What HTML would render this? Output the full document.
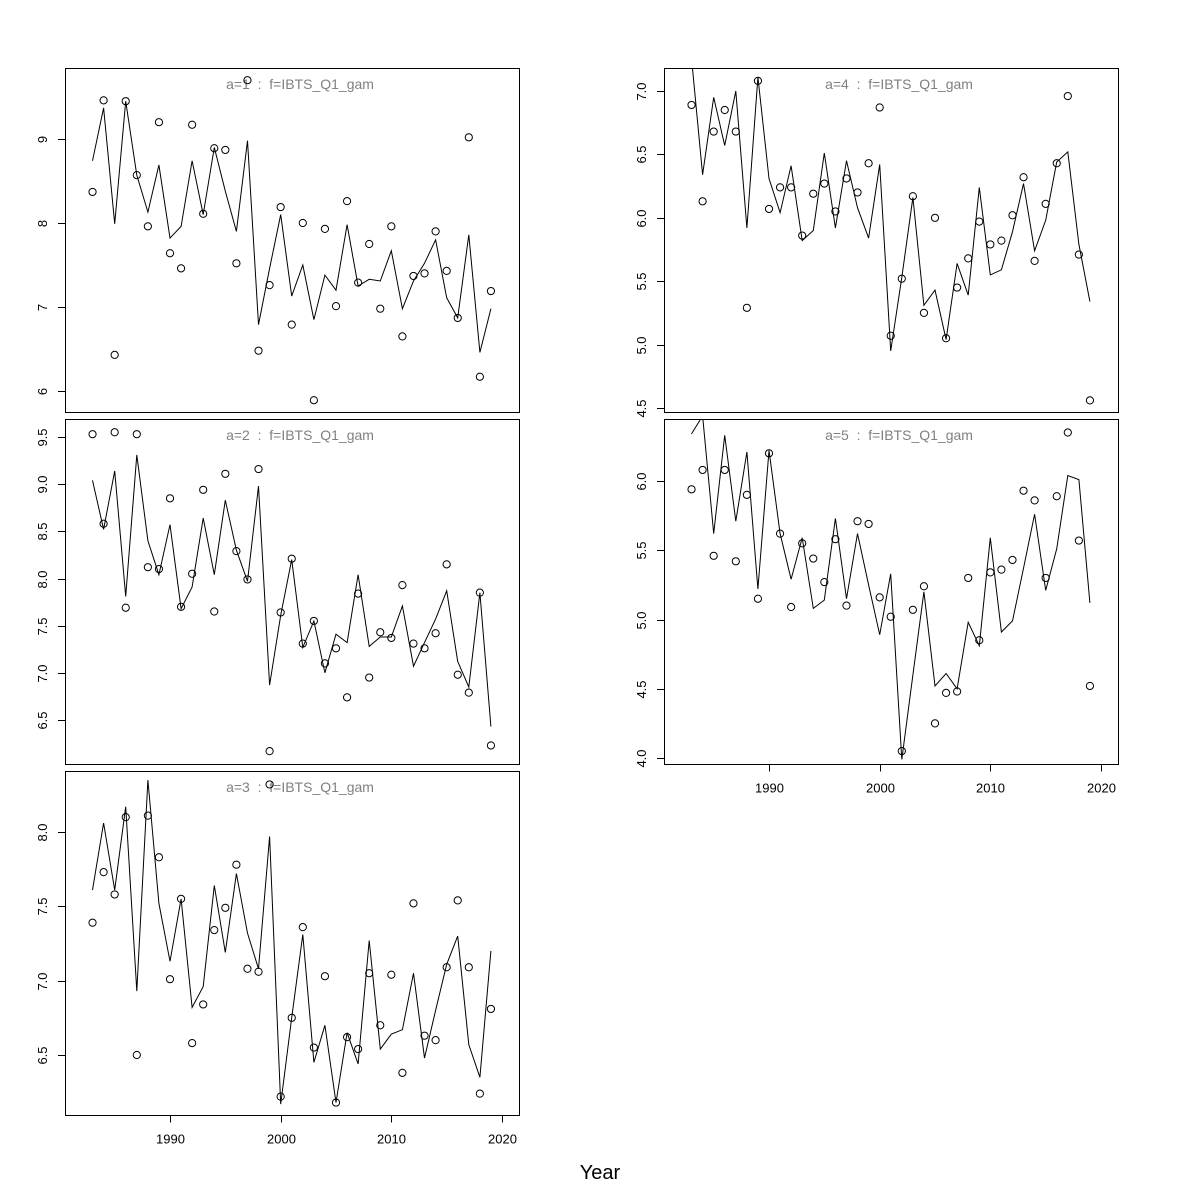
<!DOCTYPE html>
<html><head><meta charset="utf-8">
<style>
html,body{margin:0;padding:0;background:#fff;}
svg{display:block;font-family:"Liberation Sans","DejaVu Sans",sans-serif;}
.ttl{white-space:pre;}
</style></head>
<body>
<svg id="chart" width="1200" height="1200" viewBox="0 0 1200 1200" xmlns="http://www.w3.org/2000/svg">
<rect x="0" y="0" width="1200" height="1200" fill="#fff"/>
<text x="600" y="1179" font-size="20" text-anchor="middle" fill="#000">Year</text>
</svg>
<script>
const years = [];
for (let y = 1983; y <= 2019; y++) years.push(y);
const xTicks = [1990, 2000, 2010, 2020];
const panelTitles = ["a=1  :  f=IBTS_Q1_gam","a=2  :  f=IBTS_Q1_gam","a=3  :  f=IBTS_Q1_gam","a=4  :  f=IBTS_Q1_gam","a=5  :  f=IBTS_Q1_gam"];
const obs1 = [8.37,9.46,6.43,9.45,8.57,7.96,9.20,7.64,7.46,9.17,8.11,8.89,8.87,7.52,9.70,6.48,7.26,8.19,6.79,8.00,5.89,7.93,7.01,8.26,7.29,7.75,6.98,7.96,6.65,7.37,7.40,7.90,7.43,6.87,9.02,6.17,7.19];
const fit1 = [8.74,9.37,7.99,9.45,8.57,8.13,8.69,7.82,7.96,8.74,8.10,8.90,8.38,7.90,8.98,6.79,7.46,8.10,7.13,7.50,6.85,7.38,7.20,7.98,7.25,7.33,7.31,7.67,6.98,7.31,7.52,7.80,7.11,6.87,7.86,6.46,6.98];
const obs2 = [9.53,8.58,9.55,7.69,9.53,8.12,8.10,8.85,7.70,8.05,8.94,7.65,9.11,8.29,7.99,9.16,6.17,7.64,8.21,7.31,7.55,7.10,7.26,6.74,7.84,6.95,7.43,7.37,7.93,7.31,7.26,7.42,8.15,6.98,6.79,7.85,6.23];
const fit2 = [9.04,8.52,9.14,7.81,9.31,8.40,8.04,8.57,7.68,7.91,8.64,8.04,8.83,8.30,7.97,8.98,6.87,7.61,8.20,7.27,7.55,7.00,7.41,7.32,8.04,7.28,7.38,7.38,7.71,7.07,7.32,7.57,7.87,7.12,6.85,7.85,6.43];
const obs3 = [7.39,7.73,7.58,8.10,6.50,8.11,7.83,7.01,7.55,6.58,6.84,7.34,7.49,7.78,7.08,7.06,8.32,6.22,6.75,7.36,6.55,7.03,6.18,6.62,6.54,7.05,6.70,7.04,6.38,7.52,6.63,6.60,7.09,7.54,7.09,6.24,6.81];
const fit3 = [7.61,8.06,7.61,8.17,6.93,8.35,7.52,7.13,7.55,6.82,6.96,7.64,7.19,7.72,7.32,7.08,7.97,6.17,6.75,7.31,6.45,6.70,6.18,6.65,6.44,7.27,6.54,6.64,6.67,7.05,6.48,6.80,7.11,7.30,6.57,6.35,7.20];
const obs4 = [6.89,6.13,6.68,6.85,6.68,5.29,7.08,6.07,6.24,6.24,5.86,6.19,6.27,6.05,6.31,6.20,6.43,6.87,5.07,5.52,6.17,5.25,6.00,5.05,5.45,5.68,5.97,5.79,5.82,6.02,6.32,5.66,6.11,6.43,6.96,5.71,4.56];
const fit4 = [7.26,6.34,6.95,6.57,7.00,5.92,7.11,6.31,6.04,6.41,5.82,5.90,6.51,5.92,6.45,6.08,5.84,6.42,4.95,5.53,6.16,5.31,5.43,5.04,5.64,5.39,6.24,5.55,5.59,5.89,6.27,5.74,5.98,6.44,6.52,5.79,5.34];
const obs5 = [5.94,6.08,5.46,6.08,5.42,5.90,5.15,6.20,5.62,5.09,5.55,5.44,5.27,5.58,5.10,5.71,5.69,5.16,5.02,4.05,5.07,5.24,4.25,4.47,4.48,5.30,4.85,5.34,5.36,5.43,5.93,5.86,5.30,5.89,6.35,5.57,4.52];
const fit5 = [6.34,6.47,5.62,6.33,5.71,6.21,5.22,6.22,5.62,5.29,5.59,5.08,5.14,5.73,5.15,5.62,5.25,4.89,5.33,3.99,4.60,5.20,4.52,4.61,4.50,4.98,4.81,5.59,4.91,4.99,5.37,5.76,5.21,5.51,6.04,6.01,5.12];
const yTicks1 = [6,7,8,9];
const yTicks2 = [6.5,7.0,7.5,8.0,8.5,9.0,9.5];
const yTicks3 = [6.5,7.0,7.5,8.0];
const yTicks4 = [4.5,5.0,5.5,6.0,6.5,7.0];
const yTicks5 = [4.0,4.5,5.0,5.5,6.0];

const NS = "http://www.w3.org/2000/svg";
const svg = document.getElementById("chart");
function mk(tag, attrs, parent) {
  const e = document.createElementNS(NS, tag);
  for (const k in attrs) e.setAttribute(k, attrs[k]);
  (parent || svg).appendChild(e);
  return e;
}
const panels = [
  {x0:65, y0:68, w:454, h:344, v0:9, p0:139, v1:6, p1:391, obs:obs1, fit:fit1, ticks:yTicks1, dec:0, xaxis:false},
  {x0:65, y0:419, w:454, h:345, v0:9.5, p0:437, v1:6.5, p1:720, obs:obs2, fit:fit2, ticks:yTicks2, dec:1, xaxis:false},
  {x0:65, y0:771, w:454, h:344, v0:8.0, p0:832, v1:6.5, p1:1055, obs:obs3, fit:fit3, ticks:yTicks3, dec:1, xaxis:true},
  {x0:664, y0:68, w:454, h:344, v0:7.0, p0:91, v1:4.5, p1:408, obs:obs4, fit:fit4, ticks:yTicks4, dec:1, xaxis:false},
  {x0:664, y0:419, w:454, h:345, v0:6.0, p0:481, v1:4.0, p1:758, obs:obs5, fit:fit5, ticks:yTicks5, dec:1, xaxis:true}
];
panels.forEach((P, i) => {
  const xs = v => (P.x0 + 105) + (v - 1990) * (332 / 30);
  const ys = v => P.p0 + (v - P.v0) * (P.p1 - P.p0) / (P.v1 - P.v0);
  const g = mk("g", {});
  
  
  const cp = mk("clipPath", {id: "clip" + i}, g);
  mk("rect", {x: P.x0, y: P.y0, width: P.w, height: P.h}, cp);
  const frame = mk("rect", {x: P.x0 + 0.5, y: P.y0 + 0.5, width: P.w, height: P.h, fill: "none", stroke: "#000", "stroke-width": 1}, g);
  
  
  const title = mk("text", {x: P.x0 + 235, y: P.y0 + 21, "font-size": 14, "text-anchor": "middle", fill: "#808080", "class": "ttl", "xml:space": "preserve"}, g);
  title.textContent = panelTitles[i];
  
  
  const ya = mk("g", {}, g);
  
  
  P.ticks.forEach(t => {
    const py = Math.round(ys(t)) + 0.5;
    mk("line", {x1: P.x0 - 7, x2: P.x0, y1: py, y2: py, stroke: "#000"}, ya);
    const lbl = mk("text", {x: P.x0 - 18, y: py, "font-size": 13, "text-anchor": "middle", transform: "rotate(-90 " + (P.x0 - 18) + " " + py + ")", fill: "#000"}, ya);
    lbl.textContent = t.toFixed(P.dec);
    
    
  });
  mk("line", {x1: P.x0 + 0.5, x2: P.x0 + 0.5, y1: ys(P.ticks[0]), y2: ys(P.ticks[P.ticks.length - 1]), stroke: "#000"}, ya);
  if (P.xaxis) {
    const xa = mk("g", {}, g);
    
    
    const by = P.y0 + P.h + 0.5;
    mk("line", {x1: xs(xTicks[0]), x2: xs(xTicks[xTicks.length - 1]), y1: by, y2: by, stroke: "#000"}, xa);
    xTicks.forEach(t => {
      const px = Math.round(xs(t)) + 0.5;
      mk("line", {x1: px, x2: px, y1: by, y2: by + 7, stroke: "#000"}, xa);
      const lbl = mk("text", {x: px, y: by + 28, "font-size": 13, "text-anchor": "middle", fill: "#000"}, xa);
      lbl.textContent = t;
      
      
    });
  }
  const plot = mk("g", {"clip-path": "url(#clip" + i + ")"}, g);
  const d = P.fit.map((v, k) => (k ? "L" : "M") + xs(years[k]).toFixed(1) + " " + ys(v).toFixed(1)).join(" ");
  const line = mk("path", {d: d, fill: "none", stroke: "#000", "stroke-width": 1}, plot);
  
  
  P.obs.forEach((v, k) => {
    const c = mk("circle", {cx: xs(years[k]), cy: ys(v), r: 3.6, fill: "none", stroke: "#000", "stroke-width": 1}, plot);
    
    
  });
});
</script>
</body></html>
